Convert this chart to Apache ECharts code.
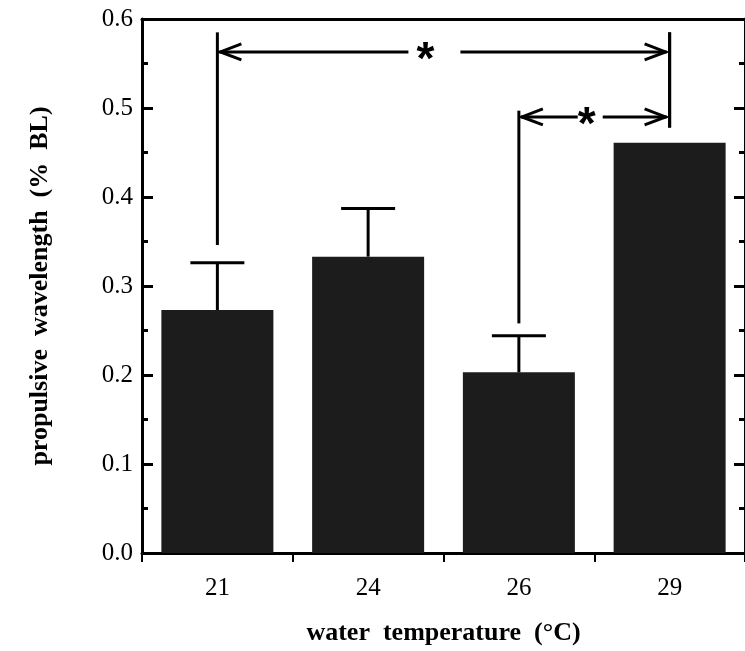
<!doctype html>
<html lang="en" style="height: 100%">

<head>
  <meta charset="utf-8" />
  <script type="text/javascript" src="https://fastly.jsdelivr.net/npm/echarts@6/dist/echarts.min.js"></script>
</head>

<body style="height: 100%; margin: 0; background: #fff">
  <div id="main" style="width: 745px; height: 651px"></div>
  <script type="text/javascript">
    // water temperature groups and the mean propulsive wavelength
    var categories = ['21', '24', '26', '29'];
    var means = [0.273, 0.333, 0.203, 0.461];
    var errors = [0.053, 0.054, 0.041, null];

    // significance brackets: from/to category, arrow level, vertical line spans, star position (fraction)
    var bracketFrom = [0, 2];
    var bracketTo = [3, 3];
    var bracketArrowY = [0.563, 0.49];
    var bracketFromSpan = [[0.346, 0.585], [0.258, 0.497]];
    var bracketToSpan = [[0.478, 0.585], [0.478, 0.585]];
    var bracketStarAt = [0.46, 0.45];
    var bracketLabel = ['*', '*'];

    var serif = '"Liberation Serif", "Times New Roman", serif';
    var ink = '#000';

    var chartDom = document.getElementById('main');
    var myChart = echarts.init(chartDom);

    var errData = means.map(function (m, i) { return [i, m, errors[i]]; })
      .filter(function (d) { return d[2] != null; });

    var bracketData = bracketFrom.map(function (f, i) {
      return [f, bracketTo[i], bracketArrowY[i],
        bracketFromSpan[i][0], bracketFromSpan[i][1],
        bracketToSpan[i][0], bracketToSpan[i][1], bracketStarAt[i], i];
    });
    // gap around the star, pixels left / right
    var starGaps = [[17, 35], [9, 16]];

    function arrowHead(x, y, dir) {
      return {
        type: 'polyline',
        shape: { points: [[x + dir * 21, y - 8], [x, y], [x + dir * 21, y + 8]] },
        style: { stroke: ink, lineWidth: 3, fill: null }
      };
    }

    var option = {
      animation: false,
      grid: {
        left: 142, right: -1, top: 19, bottom: 98,
        show: false
      },
      xAxis: [
        {
          type: 'category',
          data: categories,
          position: 'bottom',
          axisLine: { lineStyle: { color: ink, width: 3 } },
          axisTick: { show: true, inside: false, length: 9, lineStyle: { color: ink, width: 2 } },
          axisLabel: { color: ink, fontFamily: serif, fontSize: 25, margin: 23 },
          name: 'water  temperature  (°C)',
          nameLocation: 'middle',
          nameGap: 67,
          nameTextStyle: { color: ink, fontFamily: serif, fontSize: 26, fontWeight: 'bold' }
        },
        {
          type: 'category',
          data: categories,
          position: 'top',
          axisLine: { show: true, onZero: false, lineStyle: { color: ink, width: 3 } },
          axisTick: { show: false },
          axisLabel: { show: false }
        }
      ],
      yAxis: [
        {
          type: 'value',
          min: 0, max: 0.6, interval: 0.1,
          position: 'left',
          axisLine: { show: true, lineStyle: { color: ink, width: 3 } },
          axisTick: { show: true, inside: true, length: 11, lineStyle: { color: ink, width: 3 } },
          minorTick: { show: true, splitNumber: 2, length: 6, lineStyle: { color: ink, width: 3 } },
          splitLine: { show: false },
          axisLabel: {
            color: ink, fontFamily: serif, fontSize: 25, margin: 9,
            formatter: function (v) { return v.toFixed(1); }
          },
          name: 'propulsive  wavelength  (%  BL)',
          nameLocation: 'middle',
          nameGap: 89,
          nameTextStyle: { color: ink, fontFamily: serif, fontSize: 26, fontWeight: 'bold' }
        },
        {
          type: 'value',
          min: 0, max: 0.6, interval: 0.1,
          position: 'right',
          axisLine: { show: true, lineStyle: { color: ink, width: 3 } },
          axisTick: { show: true, inside: true, length: 11, lineStyle: { color: ink, width: 3 } },
          minorTick: { show: true, splitNumber: 2, length: 6, lineStyle: { color: ink, width: 3 } },
          splitLine: { show: false },
          axisLabel: { show: false }
        }
      ],
      series: [
        {
          name: 'propulsive wavelength',
          type: 'bar',
          data: means,
          barWidth: 112,
          itemStyle: { color: '#1c1c1c' }
        },
        {
          name: 'error',
          type: 'custom',
          data: errData,
          z: 3,
          renderItem: function (params, api) {
            var top = api.coord([api.value(0), api.value(1) + api.value(2)]);
            var base = api.coord([api.value(0), api.value(1)]);
            var half = 27;
            return {
              type: 'group',
              children: [
                { type: 'line', shape: { x1: base[0], y1: base[1], x2: top[0], y2: top[1] }, style: { stroke: ink, lineWidth: 3 } },
                { type: 'line', shape: { x1: top[0] - half, y1: top[1], x2: top[0] + half, y2: top[1] }, style: { stroke: ink, lineWidth: 3 } }
              ]
            };
          }
        },
        {
          name: 'significance',
          type: 'custom',
          data: bracketData,
          z: 4,
          renderItem: function (params, api) {
            var y = api.value(2);
            var a0 = api.coord([api.value(0), y]);
            var a1 = api.coord([api.value(1), y]);
            var f0 = api.coord([api.value(0), api.value(3)]);
            var f1 = api.coord([api.value(0), api.value(4)]);
            var t0 = api.coord([api.value(1), api.value(5)]);
            var t1 = api.coord([api.value(1), api.value(6)]);
            var ay = a0[1];
            var sx = a0[0] + (a1[0] - a0[0]) * api.value(7);
            var gap = starGaps[api.value(8)];
            var label = bracketLabel[api.value(8)];
            var lw = 3;
            return {
              type: 'group',
              children: [
                { type: 'line', shape: { x1: f0[0], y1: f0[1], x2: f1[0], y2: f1[1] }, style: { stroke: ink, lineWidth: lw } },
                { type: 'line', shape: { x1: t0[0], y1: t0[1], x2: t1[0], y2: t1[1] }, style: { stroke: ink, lineWidth: lw } },
                { type: 'line', shape: { x1: a0[0] + 2, y1: ay, x2: sx - gap[0], y2: ay }, style: { stroke: ink, lineWidth: lw } },
                { type: 'line', shape: { x1: sx + gap[1], y1: ay, x2: a1[0] - 3, y2: ay }, style: { stroke: ink, lineWidth: lw } },
                arrowHead(a0[0] + 3, ay, 1),
                arrowHead(a1[0] - 4, ay, -1),
                {
                  type: 'text',
                  x: sx, y: ay + 9,
                  style: {
                    text: label, fill: ink,
                    font: 'bold 46px "Liberation Sans", Arial, sans-serif',
                    align: 'center', verticalAlign: 'middle'
                  }
                }
              ]
            };
          }
        }
      ]
    };

    myChart.setOption(option);
  </script>
</body>

</html>
